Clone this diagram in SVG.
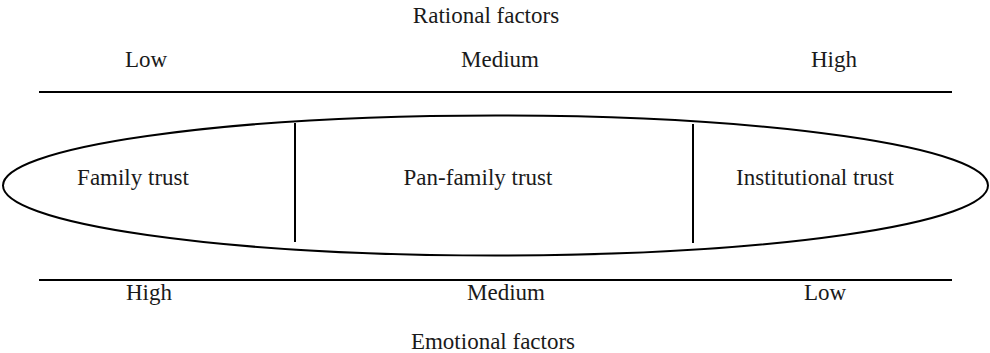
<svg xmlns="http://www.w3.org/2000/svg" width="990" height="353" viewBox="0 0 990 353">
<style>
text{font-size:23px;fill:#1a1a1a;text-anchor:middle}
.ln{stroke:#000;stroke-width:2;fill:none}
</style>
<rect width="990" height="353" fill="#fff"/>
<g id="rational-axis" font-family="Liberation Serif">
<text x="486" y="23" font-family="Liberation Serif">Rational factors</text>
<text x="146" y="67" font-family="Liberation Serif">Low</text>
<text x="500" y="67" font-family="Liberation Serif">Medium</text>
<text x="834" y="67" font-family="Liberation Serif">High</text>
<line class="ln" x1="39" y1="92" x2="952" y2="92"/>
</g>
<g id="trust-ellipse">
<ellipse class="ln" cx="495.5" cy="185.5" rx="492.5" ry="70"/>
</g>
<g id="connectors">
<line class="ln" x1="295" y1="123" x2="295" y2="242"/>
<line class="ln" x1="693" y1="124" x2="693" y2="243"/>
</g>
<g id="family-trust" font-family="Liberation Serif"><text x="133" y="185" font-family="Liberation Serif">Family trust</text></g>
<g id="pan-family-trust" font-family="Liberation Serif"><text x="478" y="185" font-family="Liberation Serif">Pan-family trust</text></g>
<g id="institutional-trust" font-family="Liberation Serif"><text x="815" y="185" font-family="Liberation Serif">Institutional trust</text></g>
<g id="emotional-axis" font-family="Liberation Serif">
<line class="ln" x1="39" y1="280" x2="952" y2="280"/>
<text x="149" y="300" font-family="Liberation Serif">High</text>
<text x="506" y="300" font-family="Liberation Serif">Medium</text>
<text x="825" y="300" font-family="Liberation Serif">Low</text>
<text x="493" y="349" font-family="Liberation Serif">Emotional factors</text>
</g>
</svg>
